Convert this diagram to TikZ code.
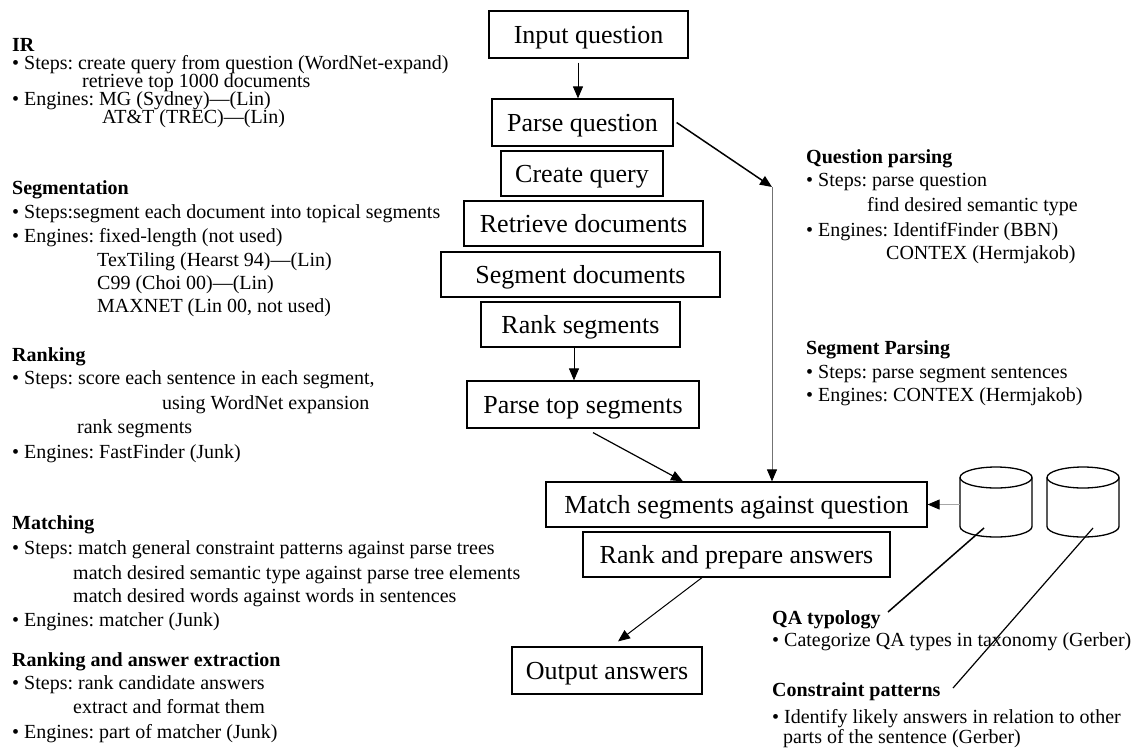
\documentclass[tikz,border=0pt]{standalone}
\usepackage{fontspec}
\setmainfont{Liberation Serif}
\usetikzlibrary{arrows.meta}
\begin{document}
\frenchspacing
\begin{tikzpicture}[x=1pt,y=-1pt,
 box/.style={draw, line width=1.2pt, inner sep=0pt, font=\fontsize{26}{30}\selectfont, text height=18pt, text depth=1pt},
 txt/.style={anchor=west, inner sep=0pt, font=\fontsize{20}{22}\selectfont, text height=12pt, text depth=0pt},
 hd/.style={txt, font=\fontsize{20}{22}\selectfont\bfseries},
 arr/.style={-{Triangle[length=12pt,width=10pt,color=black]}, line width=1pt},
 cyl/.style={line width=1.3pt},
 ]
\useasboundingbox (0,0) rectangle (1135,748);

% ---------- boxes ----------
\node[box, minimum width=199pt, minimum height=47pt] (in)  at (588.5,34.5) {Input question};
\node[box, minimum width=181pt, minimum height=47pt] (pq)  at (582.5,122.5) {Parse question};
\node[box, minimum width=162pt, minimum height=45pt] (cq)  at (582,173.5) {Create query};
\node[box, minimum width=239pt, minimum height=45pt] (rd)  at (583.5,223.5) {Retrieve documents};
\node[box, minimum width=279pt, minimum height=45pt] (sd)  at (580.5,274.5) {Segment documents};
\node[box, minimum width=199pt, minimum height=45pt] (rs)  at (580.5,324.5) {Rank segments};
\node[box, minimum width=232pt, minimum height=47pt] (pts) at (583,404.5) {Parse top segments};
\node[box, minimum width=381pt, minimum height=45pt] (msq) at (736.5,504.5) {Match segments against question};
\node[box, minimum width=307pt, minimum height=45pt] (rpa) at (736.5,554.5) {Rank and prepare answers};
\node[box, minimum width=190pt, minimum height=47pt] (oa)  at (607,670.5) {Output answers};

% ---------- cylinders ----------
\node[minimum width=72pt, minimum height=70pt, inner sep=0pt] (db1) at (996,502) {};
\node[minimum width=72pt, minimum height=70pt, inner sep=0pt] (db2) at (1083,502) {};
\draw[cyl] (996,477.5) ellipse [x radius=36pt, y radius=10.5pt];
\draw[cyl] (960,477.5) -- (960,526.5) arc[start angle=180, end angle=360, x radius=36pt, y radius=10.5pt] -- (1032,477.5);
\draw[cyl] (1083,477.5) ellipse [x radius=36pt, y radius=10.5pt];
\draw[cyl] (1047,477.5) -- (1047,526.5) arc[start angle=180, end angle=360, x radius=36pt, y radius=10.5pt] -- (1119,477.5);

% ---------- connectors ----------
\draw[arr] ([xshift=-10.5pt,yshift=-4pt]in.south) -- ([xshift=-4.5pt]pq.north);
\draw[arr] ([xshift=-6.5pt]rs.south) -- ([xshift=-9pt]pts.north);
\coordinate (turn) at (772,187);
\draw[arr, line width=1.5pt] ([xshift=3pt]pq.east) -- (turn);
\draw[arr, draw=black!55, line width=1pt] (turn) -- (turn |- msq.north);
\draw[arr, line width=1.2pt] ([xshift=10pt,yshift=-4pt]pts.south) -- ([xshift=-53.5pt]msq.north);
\draw[arr] ([xshift=-34.5pt]rpa.south) -- ([xshift=11pt,yshift=5pt]oa.north);
\draw[arr, draw=black!35, line width=0.8pt] (msq.east -| db1.west) -- (msq.east);
\coordinate (qaend) at (888,612);
\draw[line width=1.5pt] ([xshift=-12pt,yshift=-26pt]db1.center) -- (qaend);
\coordinate (cpend) at (953,688);
\draw[line width=1.2pt] ([xshift=10pt,yshift=-26pt]db2.center) -- (cpend);

% ---------- left texts ----------
\node[hd]  (t1)  at (12,45)  {IR};
\node[txt] (t2)  at (12,63)  {\textbullet\ Steps: create query from question (WordNet-expand)};
\node[txt] (t3)  at (82,81)  {retrieve top 1000 documents};
\node[txt] (t4)  at (12,99)  {\textbullet\ Engines: MG (Sydney)—(Lin)};
\node[txt] (t5)  at (102,117) {AT\&T (TREC)—(Lin)};

\node[hd]  (s1)  at (12,188) {Segmentation};
\node[txt] (s2)  at (12,212) {\textbullet\ Steps:segment each document into topical segments};
\node[txt] (s3)  at (12,236) {\textbullet\ Engines: fixed-length (not used)};
\node[txt] (s4)  at (97,260) {TexTiling (Hearst 94)—(Lin)};
\node[txt] (s5)  at (97,283) {C99 (Choi 00)—(Lin)};
\node[txt] (s6)  at (97,306) {MAXNET (Lin 00, not used)};

\node[hd]  (r1)  at (12,355) {Ranking};
\node[txt] (r2)  at (12,378) {\textbullet\ Steps: score each sentence in each segment,};
\node[txt] (r3)  at (162,403) {using WordNet expansion};
\node[txt] (r4)  at (77,427) {rank segments};
\node[txt] (r5)  at (12,452) {\textbullet\ Engines: FastFinder (Junk)};

\node[hd]  (m1)  at (12,523) {Matching};
\node[txt] (m2)  at (12,548) {\textbullet\ Steps: match general constraint patterns against parse trees};
\node[txt] (m3)  at (73,573) {match desired semantic type against parse tree elements};
\node[txt] (m4)  at (73,596) {match desired words against words in sentences};
\node[txt] (m5)  at (12,620) {\textbullet\ Engines: matcher (Junk)};

\node[hd]  (a1)  at (12,660) {Ranking and answer extraction};
\node[txt] (a2)  at (12,683) {\textbullet\ Steps: rank candidate answers};
\node[txt] (a3)  at (73,707) {extract and format them};
\node[txt] (a4)  at (12,732) {\textbullet\ Engines: part of matcher (Junk)};

% ---------- right texts ----------
\node[hd]  (q1)  at (806,157) {Question parsing};
\node[txt] (q2)  at (806,180) {\textbullet\ Steps: parse question};
\node[txt] (q3)  at (867,205) {find desired semantic type};
\node[txt] (q4)  at (806,230) {\textbullet\ Engines: IdentifFinder (BBN)};
\node[txt] (q5)  at (886,253) {CONTEX (Hermjakob)};

\node[hd]  (p1)  at (806,348) {Segment Parsing};
\node[txt] (p2)  at (806,372) {\textbullet\ Steps: parse segment sentences};
\node[txt] (p3)  at (806,395) {\textbullet\ Engines: CONTEX (Hermjakob)};

\node[hd]  (y1)  at (772,618) {QA typology};
\node[txt] (y2)  at (772,640) {\textbullet\ Categorize QA types in taxonomy (Gerber)};
\node[hd]  (c1)  at (772,690) {Constraint patterns};
\node[txt] (c2)  at (772,717) {\textbullet\ Identify likely answers in relation to other};
\node[txt] (c3)  at (783,737) {parts of the sentence (Gerber)};
\end{tikzpicture}
\end{document}
